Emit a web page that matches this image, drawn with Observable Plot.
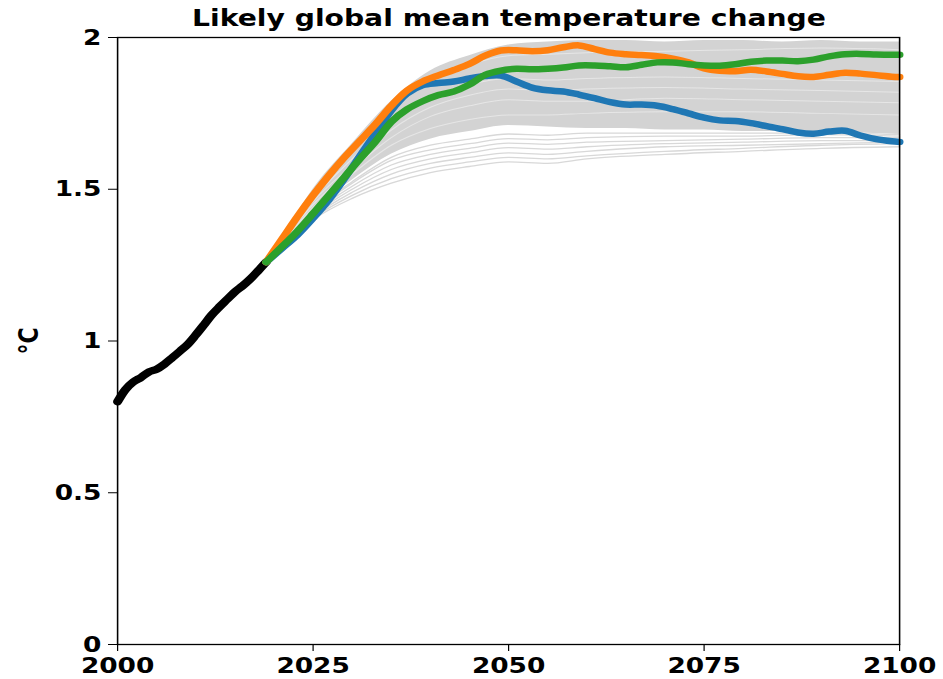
<!DOCTYPE html>
<html><head><meta charset="utf-8">
<script src="https://cdn.jsdelivr.net/npm/d3@7"></script>
<script src="https://cdn.jsdelivr.net/npm/@observablehq/plot@0.6"></script>
<style>
body{margin:0;background:#fff;}
#title{position:relative;height:30px;width:943px;overflow:visible;}
#title span{position:absolute;left:509px;top:0;line-height:36px;white-space:nowrap;font-family:"DejaVu Sans";font-weight:bold;font-size:23.5px;color:#000;transform:translateX(-50%) scaleX(1.2);}
</style></head><body>
<div id="title"><span>Likely global mean temperature change</span></div>
<div id="chart"></div>
<script>
// ---------- data ----------
const histYears = [2000,2001,2002,2003,2004,2005,2006,2007,2008,2009,2010,2011,2012,2013,2014,2015,2016,2017,2018,2019];
const histTemp  = [0.80,0.84,0.865,0.88,0.898,0.907,0.924,0.945,0.967,0.99,1.02,1.052,1.085,1.112,1.137,1.162,1.182,1.205,1.232,1.26];

const scenYears = [2019,2021,2023,2025,2027,2029,2031,2033,2035,2037,2039,
                   2041,2043,2045,2047,2049,2051,2053,2055,2057,2059,
                   2061,2063,2065,2067,2069,2071,2073,2075,2077,2079,
                   2081,2083,2085,2087,2089,2091,2093,2095,2097,2099,2100];
const blueTemp   = [1.26,1.305,1.35,1.405,1.465,1.535,1.61,1.685,1.76,1.815,1.843,
                    1.85,1.855,1.865,1.873,1.875,1.855,1.835,1.826,1.822,1.812,
                    1.80,1.787,1.779,1.779,1.775,1.764,1.75,1.736,1.727,1.725,
                    1.718,1.708,1.698,1.687,1.683,1.69,1.693,1.677,1.665,1.658,1.656];
const orangeTemp = [1.26,1.335,1.41,1.48,1.545,1.605,1.66,1.715,1.775,1.825,1.855,
                    1.875,1.893,1.913,1.94,1.957,1.958,1.955,1.958,1.968,1.974,
                    1.962,1.95,1.945,1.942,1.938,1.93,1.918,1.898,1.89,1.889,
                    1.894,1.888,1.88,1.872,1.870,1.877,1.884,1.881,1.876,1.871,1.870];
const greenTemp  = [1.26,1.31,1.362,1.42,1.48,1.54,1.60,1.658,1.722,1.763,1.79,
                    1.81,1.822,1.845,1.877,1.891,1.897,1.895,1.897,1.901,1.908,
                    1.908,1.905,1.902,1.91,1.918,1.918,1.912,1.908,1.907,1.912,
                    1.92,1.924,1.924,1.922,1.927,1.938,1.945,1.946,1.944,1.943,1.943];

// dense core of the grey ensemble
const bandYears = [2019,2022,2025,2030,2035,2040,2045,2050,2055,2060,2065,2070,2075,2080,2085,2090,2095,2100];
const bandHigh  = [1.26,1.38,1.50,1.65,1.79,1.89,1.94,1.975,1.985,1.99,1.99,1.985,1.99,1.99,1.985,1.99,1.985,1.985];
const bandLow   = [1.26,1.33,1.43,1.53,1.615,1.665,1.69,1.71,1.705,1.70,1.70,1.695,1.695,1.69,1.69,1.69,1.685,1.68];

// individual grey members below the core, and pale streaks inside it
const memberYears = [2019,2025,2030,2035,2040,2045,2050,2055,2060,2070,2080,2090,2100];
const fringeMembers = [
  [1.26,1.40,1.47,1.52,1.555,1.575,1.59,1.585,1.60,1.615,1.625,1.635,1.64],
  [1.26,1.405,1.48,1.535,1.57,1.59,1.605,1.60,1.61,1.625,1.635,1.645,1.65],
  [1.26,1.41,1.49,1.55,1.585,1.605,1.62,1.615,1.625,1.64,1.645,1.65,1.655],
  [1.26,1.415,1.50,1.565,1.60,1.62,1.637,1.632,1.64,1.65,1.655,1.66,1.66],
  [1.26,1.42,1.51,1.58,1.615,1.635,1.652,1.648,1.655,1.66,1.665,1.67,1.67],
  [1.26,1.425,1.52,1.595,1.63,1.65,1.667,1.663,1.67,1.675,1.675,1.68,1.675],
  [1.26,1.43,1.525,1.605,1.645,1.665,1.682,1.678,1.685,1.685,1.685,1.685,1.68]
];
const streakMembers = [
  [1.26,1.44,1.55,1.645,1.70,1.73,1.745,1.745,1.75,1.755,1.755,1.75,1.745],
  [1.26,1.45,1.565,1.67,1.74,1.775,1.795,1.79,1.79,1.80,1.795,1.79,1.785],
  [1.26,1.46,1.58,1.695,1.77,1.81,1.83,1.825,1.83,1.835,1.83,1.825,1.82],
  [1.26,1.47,1.60,1.72,1.80,1.845,1.865,1.86,1.865,1.87,1.865,1.86,1.855],
  [1.26,1.49,1.63,1.76,1.855,1.91,1.94,1.945,1.95,1.955,1.96,1.965,1.96]
];

const xTicks = [2000,2025,2050,2075,2100];
const yTicks = [0,0.5,1,1.5,2];

// ---------- tables ----------
const hist = histYears.map((year,i)=>({year, value: histTemp[i]}));
const blue = scenYears.map((year,i)=>({year, value: blueTemp[i]}));
const orange = scenYears.map((year,i)=>({year, value: orangeTemp[i]}));
const green = scenYears.map((year,i)=>({year, value: greenTemp[i]}));
const band = bandYears.map((year,i)=>({year, lo: bandLow[i], hi: bandHigh[i]}));
const fringe = fringeMembers.flatMap((m,k)=>memberYears.map((year,i)=>({member:k, year, value:m[i]})));
const streaks = streakMembers.flatMap((m,k)=>memberYears.map((year,i)=>({member:k, year, value:m[i]})));

const SX = 1.2;              // the reference is stretched horizontally
const W = 943 / SX;

const chart = Plot.plot({
  width: W,
  height: 649,
  marginLeft: 117 / SX,
  marginRight: W - 899 / SX,
  marginTop: 7,
  marginBottom: 35,
  x: {domain: [2000, 2100]},
  y: {domain: [0, 2]},
  style: "font-family:'DejaVu Sans';font-weight:bold;font-size:22px;color:black;background:white;overflow:visible;",
  marks: [
    Plot.areaY(band, {x: "year", y1: "lo", y2: "hi", fill: "#d3d3d3", curve: "monotone-x"}),
    Plot.line(fringe, {x: "year", y: "value", z: "member", stroke: "#d8d8d8", strokeWidth: 1.3, curve: "monotone-x"}),
    Plot.line(streaks, {x: "year", y: "value", z: "member", stroke: "#e6e6e6", strokeWidth: 1, curve: "monotone-x"}),
    Plot.line(hist, {x: "year", y: "value", stroke: "black", strokeWidth: 7.5, curve: "catmull-rom"}),
    Plot.line(blue, {x: "year", y: "value", stroke: "#1f77b4", strokeWidth: 6.5, curve: "catmull-rom"}),
    Plot.line(orange, {x: "year", y: "value", stroke: "#ff7f0e", strokeWidth: 6.5, curve: "catmull-rom"}),
    Plot.line(green, {x: "year", y: "value", stroke: "#2ca02c", strokeWidth: 6.5, curve: "catmull-rom"}),
    Plot.frame({stroke: "black", strokeWidth: 1.3}),
    Plot.axisX({ticks: xTicks, tickFormat: d => String(d), tickSize: 7, tickPadding: 6, label: null}),
    Plot.axisY({ticks: yTicks, tickFormat: d => String(d), tickSize: 7.5, tickPadding: 6,
                label: "°C", labelAnchor: "center", labelArrow: "none", labelOffset: 82})
  ]
});
chart.setAttribute("width", 943);
chart.setAttribute("preserveAspectRatio", "none");
chart.style.width = "943px";
chart.style.height = "649px";
chart.style.maxWidth = "none";
document.getElementById("chart").appendChild(chart);
</script>
</body></html>
